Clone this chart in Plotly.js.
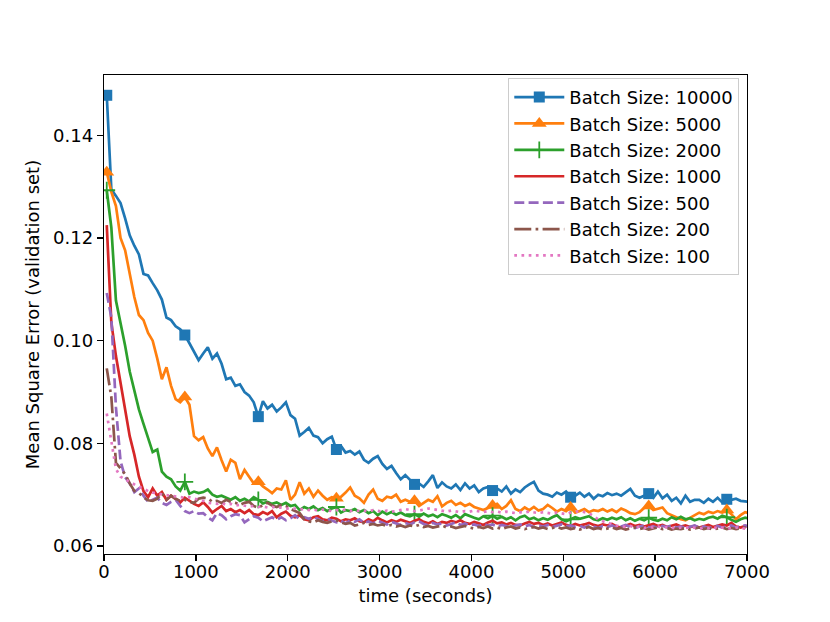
<!DOCTYPE html>
<html><head><meta charset="utf-8">
<script src="https://cdn.plot.ly/plotly-3.0.1.min.js"></script>
<style>html,body{margin:0;padding:0;background:#fff}</style>
</head><body><div id="chart" style="width:830px;height:622px"></div>
<script>
const timeSec = [
30,80,130,180,230,280,330,380,430,480,
530,580,630,680,730,780,830,880,930,980,
1030,1080,1130,1180,1230,1280,1330,1380,1430,1480,
1530,1580,1630,1680,1730,1780,1830,1880,1930,1980,
2030,2080,2130,2180,2230,2280,2330,2380,2430,2480,
2530,2580,2630,2680,2730,2780,2830,2880,2930,2980,
3030,3080,3130,3180,3230,3280,3330,3380,3430,3480,
3530,3580,3630,3680,3730,3780,3830,3880,3930,3980,
4030,4080,4130,4180,4230,4280,4330,4380,4430,4480,
4530,4580,4630,4680,4730,4780,4830,4880,4930,4980,
5030,5080,5130,5180,5230,5280,5330,5380,5430,5480,
5530,5580,5630,5680,5730,5780,5830,5880,5930,5980,
6030,6080,6130,6180,6230,6280,6330,6380,6430,6480,
6530,6580,6630,6680,6730,6780,6830,6880,6930,6980,
7030];

const mse10000 = [
0.1478,0.1295,0.1282,0.1268,0.1238,0.1205,0.1185,0.1168,0.1130,0.1127,
0.1112,0.1098,0.1080,0.1045,0.1040,0.1028,0.1022,0.1011,0.0995,0.0978,
0.0962,0.0975,0.0987,0.0965,0.0975,0.0955,0.0925,0.0928,0.0912,0.0915,
0.0900,0.0893,0.0880,0.0852,0.0882,0.0868,0.0875,0.0862,0.0870,0.0880,
0.0855,0.0848,0.0815,0.0822,0.0830,0.0815,0.0812,0.0800,0.0808,0.0813,
0.0788,0.0795,0.0782,0.0785,0.0778,0.0784,0.0768,0.0762,0.0770,0.0775,
0.0760,0.0750,0.0756,0.0742,0.0730,0.0738,0.0728,0.0720,0.0722,0.0715,
0.0726,0.0738,0.0713,0.0724,0.0716,0.0712,0.0720,0.0709,0.0722,0.0712,
0.0718,0.0705,0.0712,0.0715,0.0708,0.0712,0.0706,0.0716,0.0702,0.0710,
0.0705,0.0714,0.0720,0.0725,0.0708,0.0702,0.0700,0.0696,0.0704,0.0700,
0.0706,0.0695,0.0698,0.0704,0.0696,0.0702,0.0692,0.0700,0.0697,0.0703,
0.0699,0.0702,0.0698,0.0705,0.0711,0.0698,0.0694,0.0698,0.0702,0.0694,
0.0706,0.0693,0.0700,0.0688,0.0694,0.0683,0.0698,0.0686,0.0690,0.0690,
0.0684,0.0692,0.0686,0.0694,0.0685,0.0691,0.0690,0.0692,0.0688,0.0687,
0.0686];

const mse5000 = [
0.1328,0.1290,0.1262,0.1200,0.1176,0.1131,0.1085,0.1050,0.1040,0.1015,
0.1000,0.0965,0.0925,0.0948,0.0912,0.0886,0.0880,0.0890,0.0875,0.0814,
0.0806,0.0812,0.0790,0.0775,0.0792,0.0767,0.0745,0.0768,0.0762,0.0730,
0.0748,0.0735,0.0722,0.0725,0.0716,0.0710,0.0703,0.0712,0.0710,0.0728,
0.0690,0.0700,0.0724,0.0702,0.0712,0.0696,0.0708,0.0698,0.0690,0.0695,
0.0693,0.0696,0.0704,0.0714,0.0698,0.0693,0.0684,0.0700,0.0710,0.0692,
0.0688,0.0696,0.0694,0.0700,0.0686,0.0690,0.0686,0.0688,0.0678,0.0684,
0.0690,0.0686,0.0697,0.0677,0.0684,0.0688,0.0680,0.0684,0.0678,0.0682,
0.0676,0.0673,0.0670,0.0674,0.0679,0.0682,0.0672,0.0678,0.0689,0.0672,
0.0668,0.0675,0.0670,0.0676,0.0669,0.0672,0.0680,0.0674,0.0667,0.0672,
0.0668,0.0675,0.0665,0.0668,0.0672,0.0666,0.0670,0.0668,0.0672,0.0667,
0.0671,0.0666,0.0673,0.0669,0.0664,0.0662,0.0666,0.0674,0.0678,0.0670,
0.0672,0.0675,0.0664,0.0660,0.0656,0.0652,0.0650,0.0655,0.0660,0.0665,
0.0662,0.0667,0.0664,0.0668,0.0665,0.0670,0.0662,0.0652,0.0660,0.0666,
0.0664];

const mse2000 = [
0.1293,0.1220,0.1078,0.1035,0.0990,0.0940,0.0905,0.0866,0.0838,0.0812,
0.0783,0.0788,0.0745,0.0735,0.0730,0.0716,0.0708,0.0725,0.0702,0.0706,
0.0703,0.0705,0.0710,0.0700,0.0696,0.0698,0.0694,0.0690,0.0695,0.0688,
0.0692,0.0687,0.0695,0.0690,0.0683,0.0686,0.0682,0.0685,0.0680,0.0684,
0.0678,0.0680,0.0670,0.0676,0.0672,0.0677,0.0670,0.0674,0.0668,0.0673,
0.0676,0.0665,0.0670,0.0668,0.0672,0.0666,0.0670,0.0664,0.0668,0.0660,
0.0667,0.0662,0.0666,0.0661,0.0665,0.0660,0.0658,0.0662,0.0657,0.0663,
0.0658,0.0661,0.0656,0.0662,0.0659,0.0655,0.0660,0.0654,0.0662,0.0658,
0.0655,0.0652,0.0658,0.0654,0.0659,0.0653,0.0657,0.0652,0.0656,0.0650,
0.0656,0.0659,0.0652,0.0655,0.0650,0.0654,0.0651,0.0656,0.0660,0.0652,
0.0648,0.0652,0.0656,0.0653,0.0656,0.0658,0.0652,0.0650,0.0654,0.0651,
0.0655,0.0652,0.0656,0.0650,0.0654,0.0649,0.0653,0.0650,0.0655,0.0651,
0.0649,0.0653,0.0650,0.0656,0.0652,0.0657,0.0652,0.0654,0.0650,0.0653,
0.0651,0.0655,0.0657,0.0653,0.0659,0.0656,0.0651,0.0647,0.0652,0.0655,
0.0653];

const mse1000 = [
0.1225,0.1035,0.0970,0.0915,0.0862,0.0814,0.0778,0.0735,0.0707,0.0695,
0.0712,0.0698,0.0705,0.0690,0.0698,0.0692,0.0685,0.0694,0.0688,0.0682,
0.0678,0.0685,0.0676,0.0665,0.0672,0.0678,0.0668,0.0672,0.0666,0.0670,
0.0664,0.0670,0.0662,0.0660,0.0666,0.0662,0.0668,0.0656,0.0663,0.0667,
0.0659,0.0656,0.0660,0.0652,0.0650,0.0656,0.0658,0.0652,0.0650,0.0655,
0.0653,0.0648,0.0652,0.0650,0.0654,0.0648,0.0646,0.0652,0.0648,0.0655,
0.0650,0.0646,0.0650,0.0647,0.0651,0.0648,0.0645,0.0649,0.0652,0.0647,
0.0644,0.0648,0.0643,0.0647,0.0645,0.0649,0.0646,0.0650,0.0645,0.0643,
0.0647,0.0644,0.0641,0.0646,0.0649,0.0644,0.0646,0.0642,0.0645,0.0641,
0.0640,0.0644,0.0647,0.0643,0.0645,0.0641,0.0644,0.0640,0.0643,0.0646,
0.0641,0.0639,0.0643,0.0640,0.0642,0.0645,0.0641,0.0639,0.0642,0.0640,
0.0643,0.0638,0.0636,0.0640,0.0643,0.0639,0.0641,0.0638,0.0640,0.0643,
0.0639,0.0641,0.0637,0.0640,0.0642,0.0638,0.0640,0.0637,0.0639,0.0636,
0.0638,0.0641,0.0637,0.0639,0.0642,0.0640,0.0645,0.0638,0.0636,0.0639,
0.0638];

const mse500 = [
0.1093,0.1045,0.0870,0.0765,0.0734,0.0722,0.0705,0.0712,0.0698,0.0686,
0.0690,0.0694,0.0684,0.0680,0.0686,0.0690,0.0678,0.0668,0.0664,0.0668,
0.0663,0.0664,0.0656,0.0650,0.0664,0.0660,0.0652,0.0658,0.0662,0.0660,
0.0646,0.0652,0.0658,0.0655,0.0648,0.0652,0.0656,0.0651,0.0656,0.0650,
0.0654,0.0660,0.0652,0.0656,0.0653,0.0657,0.0652,0.0648,0.0653,0.0650,
0.0646,0.0649,0.0644,0.0650,0.0647,0.0652,0.0645,0.0648,0.0644,0.0649,
0.0646,0.0642,0.0647,0.0644,0.0641,0.0645,0.0642,0.0646,0.0648,0.0643,
0.0640,0.0645,0.0642,0.0644,0.0640,0.0643,0.0646,0.0641,0.0644,0.0640,
0.0642,0.0639,0.0643,0.0640,0.0642,0.0638,0.0641,0.0639,0.0636,0.0640,
0.0642,0.0638,0.0641,0.0637,0.0640,0.0638,0.0641,0.0637,0.0639,0.0642,
0.0638,0.0640,0.0637,0.0639,0.0636,0.0640,0.0638,0.0635,0.0639,0.0637,
0.0640,0.0636,0.0638,0.0641,0.0637,0.0635,0.0638,0.0640,0.0636,0.0638,
0.0635,0.0639,0.0637,0.0640,0.0636,0.0638,0.0635,0.0637,0.0640,0.0636,
0.0638,0.0635,0.0637,0.0639,0.0636,0.0638,0.0640,0.0636,0.0638,0.0640,
0.0637];

const mse200 = [
0.0946,0.0890,0.0762,0.0750,0.0740,0.0722,0.0707,0.0703,0.0695,0.0689,
0.0688,0.0692,0.0703,0.0690,0.0698,0.0692,0.0688,0.0690,0.0686,0.0684,
0.0692,0.0694,0.0693,0.0686,0.0688,0.0684,0.0690,0.0686,0.0684,0.0680,
0.0684,0.0686,0.0678,0.0674,0.0680,0.0684,0.0679,0.0676,0.0680,0.0678,
0.0672,0.0668,0.0664,0.0652,0.0648,0.0646,0.0650,0.0647,0.0645,0.0648,
0.0650,0.0646,0.0643,0.0645,0.0640,0.0642,0.0645,0.0641,0.0643,0.0640,
0.0642,0.0639,0.0641,0.0638,0.0640,0.0637,0.0640,0.0638,0.0641,0.0637,
0.0639,0.0636,0.0638,0.0640,0.0636,0.0638,0.0635,0.0637,0.0639,0.0636,
0.0634,0.0637,0.0635,0.0638,0.0634,0.0636,0.0633,0.0636,0.0638,0.0634,
0.0636,0.0633,0.0635,0.0637,0.0634,0.0636,0.0633,0.0635,0.0637,0.0634,
0.0636,0.0633,0.0635,0.0632,0.0635,0.0637,0.0633,0.0635,0.0632,0.0634,
0.0636,0.0633,0.0635,0.0632,0.0634,0.0636,0.0633,0.0635,0.0632,0.0634,
0.0636,0.0633,0.0635,0.0632,0.0634,0.0633,0.0635,0.0632,0.0634,0.0636,
0.0633,0.0635,0.0632,0.0634,0.0636,0.0633,0.0635,0.0633,0.0634,0.0636,
0.0634];

const mse100 = [
0.0858,0.0805,0.0750,0.0735,0.0730,0.0725,0.0720,0.0715,0.0712,0.0707,
0.0704,0.0702,0.0700,0.0699,0.0698,0.0697,0.0696,0.0694,0.0695,0.0692,
0.0690,0.0688,0.0684,0.0683,0.0682,0.0684,0.0680,0.0682,0.0679,0.0680,
0.0678,0.0677,0.0678,0.0676,0.0677,0.0675,0.0676,0.0674,0.0675,0.0673,
0.0672,0.0673,0.0671,0.0672,0.0670,0.0671,0.0669,0.0671,0.0670,0.0668,
0.0670,0.0669,0.0671,0.0668,0.0670,0.0668,0.0669,0.0667,0.0670,0.0668,
0.0667,0.0669,0.0667,0.0668,0.0670,0.0672,0.0670,0.0668,0.0669,0.0671,
0.0673,0.0672,0.0670,0.0668,0.0667,0.0669,0.0668,0.0666,0.0668,0.0667,
0.0669,0.0667,0.0666,0.0668,0.0666,0.0667,0.0665,0.0667,0.0666,0.0664,
0.0666,0.0665,0.0667,0.0665,0.0664,0.0666,0.0664,0.0663,0.0665,0.0664,
0.0662,0.0665,0.0666,0.0668,0.0666,0.0664,0.0658,0.0652,0.0648,0.0645,
0.0642,0.0640,0.0638,0.0637,0.0639,0.0636,0.0638,0.0635,0.0637,0.0636,
0.0638,0.0635,0.0637,0.0636,0.0634,0.0636,0.0635,0.0637,0.0635,0.0634,
0.0636,0.0635,0.0637,0.0634,0.0636,0.0635,0.0634,0.0636,0.0635,0.0634,
0.0635];

const seriesNames = ['Batch Size: 10000','Batch Size: 5000','Batch Size: 2000','Batch Size: 1000','Batch Size: 500','Batch Size: 200','Batch Size: 100'];
const markerIdx = [0,17,33,50,67,84,101,118,135];
const xTicks = [0,1000,2000,3000,4000,5000,6000,7000];
const yTicks = [0.06,0.08,0.10,0.12,0.14];

const seriesData = [mse10000, mse5000, mse2000, mse1000, mse500, mse200, mse100];
const colors = ['#1f77b4','#ff7f0e','#2ca02c','#d62728','#9467bd','#8c564b','#e377c2'];
const dashes = ['solid','solid','solid','solid','10px,4.3px','17px,4.3px,2.7px,4.3px','2.7px,4.5px'];
const symbols = ['square','triangle-up','cross-thin',null,null,null,null];
const msizes = [11,13,12,0,0,0,0];

function maskColors(n, color){
  const arr = [];
  for(let i=0;i<n;i++) arr.push(markerIdx.indexOf(i) >= 0 ? color : 'rgba(0,0,0,0)');
  return arr;
}

const traces = seriesData.map((ys, k) => {
  const tr = {
    x: timeSec, y: ys, type: 'scatter', name: seriesNames[k],
    line: {color: colors[k], width: 2.7, dash: dashes[k]},
    mode: symbols[k] ? 'lines+markers' : 'lines',
    cliponaxis: true
  };
  if(symbols[k]){
    const mc = maskColors(ys.length, colors[k]);
    tr.marker = {symbol: symbols[k], size: msizes[k], color: mc,
                 line: {width: k===2 ? 1.8 : 0, color: mc}};
  }
  return tr;
});

const axisFont = {family: 'DejaVu Sans', size: 18, color: '#000'};
const layout = {
  width: 830, height: 622,
  margin: {l: 104, r: 83, t: 75, b: 68},
  paper_bgcolor: '#fff', plot_bgcolor: '#fff',
  showlegend: true, hovermode: false,
  font: axisFont,
  xaxis: {
    range: [0, 7000], tickvals: xTicks, ticktext: xTicks.map(String),
    showgrid: false, zeroline: false, showline: true, mirror: true,
    linecolor: '#000', linewidth: 1.3, ticks: 'outside', ticklen: 6, tickwidth: 1.3, tickcolor: '#000',
    tickfont: axisFont, ticklabelstandoff: -5,
    title: {text: 'time (seconds)', font: axisFont, standoff: 8}
  },
  yaxis: {
    range: [0.05844, 0.15175], tickvals: yTicks, ticktext: yTicks.map(v => v.toFixed(2)),
    showgrid: false, zeroline: false, showline: true, mirror: true,
    linecolor: '#000', linewidth: 1.3, ticks: 'outside', ticklen: 6, tickwidth: 1.3, tickcolor: '#000',
    tickfont: axisFont,
    title: {text: 'Mean Square Error (validation set)', font: axisFont, standoff: 8}
  },
  legend: {
    x: 0.988, y: 0.994, xanchor: 'right', yanchor: 'top',
    bgcolor: 'rgba(255,255,255,0.8)', bordercolor: '#cccccc', borderwidth: 1,
    font: axisFont, itemwidth: 50
  }
};

Plotly.newPlot('chart', traces, layout, {staticPlot: true, displayModeBar: false});
</script>
</body></html>
